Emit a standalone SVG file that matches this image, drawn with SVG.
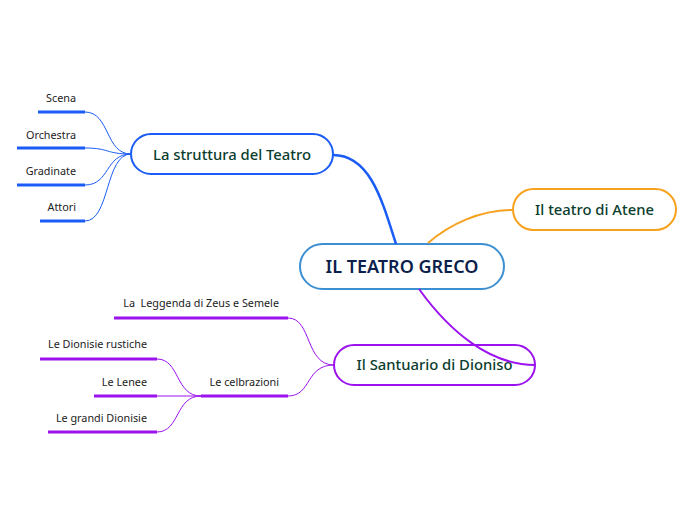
<svg xmlns="http://www.w3.org/2000/svg" width="696" height="520" viewBox="0 0 696 520">
<style>
.node{fill:#fff;stroke-width:2}
.t{font-family:"Noto Sans","Open Sans",sans-serif;text-anchor:middle}
.main{font-size:18px;fill:#0d1f4d;font-weight:600}
.sub{font-size:14.8px;fill:#0b3d2e;font-weight:500}
.leaf{font-family:"Noto Sans","Open Sans",sans-serif;font-size:10.8px;fill:#222;text-anchor:end}
.blue{stroke:#1a5cf5;fill:none}
.purple{stroke:#9b12ee;fill:none}
.orange{stroke:#f7a21e;fill:none}
.thin{stroke-width:1}
.ul{stroke-width:3}
</style>
<rect width="696" height="520" fill="#fff"/>
<g id="root">
  <rect class="node" x="300" y="244" width="204" height="45" rx="22.5" stroke="#3b8fd2"/>
  <text class="t main" x="402" y="273">IL TEATRO GRECO</text>
</g>
<g id="struttura">
  <rect class="node" x="131" y="134" width="202" height="40" rx="20" stroke="#1a5cf5"/>
  <text class="t sub" x="232" y="160">La struttura del Teatro</text>
</g>
<g id="atene">
  <rect class="node" x="513" y="189" width="163" height="41" rx="20.5" stroke="#f7a21e"/>
  <text class="t sub" x="594.5" y="215">Il teatro di Atene</text>
</g>
<g id="santuario">
  <rect class="node" x="334" y="345" width="201" height="40" rx="20" stroke="#9b12ee"/>
  <text class="t sub" x="434.5" y="370">Il Santuario di Dioniso</text>
</g>
<g id="scena">
  <line class="blue ul" x1="38" y1="112" x2="85" y2="112"/>
  <text class="leaf" x="76" y="102">Scena</text>
</g>
<g id="orchestra">
  <line class="blue ul" x1="17" y1="148" x2="85" y2="148"/>
  <text class="leaf" x="76" y="139">Orchestra</text>
</g>
<g id="gradinate">
  <line class="blue ul" x1="17" y1="185" x2="85" y2="185"/>
  <text class="leaf" x="76" y="175">Gradinate</text>
</g>
<g id="attori">
  <line class="blue ul" x1="40" y1="221" x2="85" y2="221"/>
  <text class="leaf" x="76" y="211">Attori</text>
</g>
<g id="leggenda">
  <line class="purple ul" x1="114" y1="318" x2="288" y2="318"/>
  <text class="leaf" x="279" y="307" xml:space="preserve">La  Leggenda di Zeus e Semele</text>
</g>
<g id="celebrazioni">
  <line class="purple ul" x1="201" y1="396" x2="288" y2="396"/>
  <text class="leaf" x="279" y="386">Le celbrazioni</text>
</g>
<g id="rustiche">
  <line class="purple ul" x1="40" y1="359" x2="157" y2="359"/>
  <text class="leaf" x="147" y="348">Le Dionisie rustiche</text>
</g>
<g id="lenee">
  <line class="purple ul" x1="94" y1="396" x2="157" y2="396"/>
  <text class="leaf" x="147" y="386">Le Lenee</text>
</g>
<g id="grandi">
  <line class="purple ul" x1="48" y1="432" x2="157" y2="432"/>
  <text class="leaf" x="147" y="422">Le grandi Dionisie</text>
</g>
<g id="connectors">
  <path class="blue" stroke-width="2.5" d="M396,244 C382,200 370,155 333,155"/>
  <path class="orange" stroke-width="2" d="M428,243 C450,224 480,210 513,210"/>
  <path class="purple" stroke-width="2" d="M419,289 C450,332 490,365 535,365"/>
  <path class="blue thin" d="M85,112 C110,112 105,154 131,154"/>
  <path class="blue thin" d="M85,148 C110,148 105,154 131,154"/>
  <path class="blue thin" d="M85,185 C110,185 105,154 131,154"/>
  <path class="blue thin" d="M85,221 C110,221 105,154 131,154"/>
  <path class="purple thin" d="M288,318 C312,318 305,365 334,365"/>
  <path class="purple thin" d="M288,396 C312,396 305,365 334,365"/>
  <path class="purple thin" d="M157,359 C180,359 175,396 201,396"/>
  <path class="purple thin" d="M157,396 L201,396"/>
  <path class="purple thin" d="M157,432 C180,432 175,396 201,396"/>
</g>
</svg>
